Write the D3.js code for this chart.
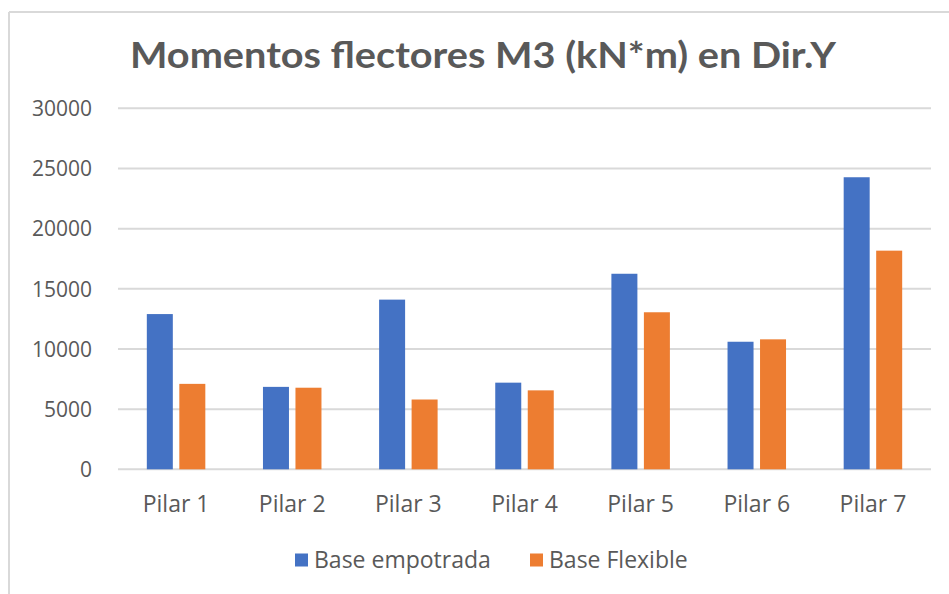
<!DOCTYPE html>
<html>
<head>
<meta charset="utf-8">
<script src="https://cdn.jsdelivr.net/npm/d3@7"></script>
<style>
  html, body { margin: 0; padding: 0; background: #ffffff; }
  svg { display: block; }
</style>
</head>
<body>
<svg id="chart" width="949" height="594"></svg>
<script>
// Bending moments M3 (kN*m), direction Y, per column
const categories = ["Pilar 1", "Pilar 2", "Pilar 3", "Pilar 4", "Pilar 5", "Pilar 6", "Pilar 7"];
const seriesNames = ["Base empotrada", "Base Flexible"];
const baseEmpotrada = [12900, 6850, 14100, 7200, 16250, 10600, 24270];
const baseFlexible = [7100, 6780, 5800, 6560, 13050, 10800, 18170];
const yTicks = [0, 5000, 10000, 15000, 20000, 25000, 30000];
const colors = ["#4472C4", "#ED7D31"];

const svg = d3.select("#chart");
const W = 949, H = 594;
const plot = { left: 118, right: 931, top: 108.3, bottom: 469.3 };

// Chart frame (top and left edges)
svg.append("line").attr("x1", 9).attr("x2", W).attr("y1", 12).attr("y2", 12)
  .attr("stroke", "#d9d9d9").attr("stroke-width", 2);
svg.append("line").attr("x1", 9).attr("x2", 9).attr("y1", 12).attr("y2", H)
  .attr("stroke", "#d9d9d9").attr("stroke-width", 2);

// Title
svg.append("text")
  .attr("x", 483).attr("y", 68)
  .attr("text-anchor", "middle")
  .attr("font-family", "Lato, 'Open Sans', sans-serif")
  .attr("font-weight", "bold")
  .attr("font-size", 37)
  .attr("fill", "#595959")
  .attr("textLength", 706)
  .attr("lengthAdjust", "spacingAndGlyphs")
  .text("Momentos flectores M3 (kN*m) en Dir.Y");

const x0 = d3.scaleBand().domain(categories).range([plot.left, plot.right]).paddingInner(0).paddingOuter(0);
const y = d3.scaleLinear().domain([0, 30000]).range([plot.bottom, plot.top]);

// Horizontal gridlines
svg.append("g").selectAll("line").data(yTicks).join("line")
  .attr("x1", plot.left).attr("x2", plot.right)
  .attr("y1", d => y(d)).attr("y2", d => y(d))
  .attr("stroke", "#d9d9d9").attr("stroke-width", 2);

// Y axis labels
const yAxis = d3.axisLeft(y).tickValues(yTicks).tickSize(0).tickPadding(0).tickFormat(d3.format("d"));
const gy = svg.append("g").attr("transform", `translate(92,0)`).call(yAxis);
gy.select(".domain").remove();
gy.selectAll("text")
  .attr("font-family", "'Open Sans', sans-serif")
  .attr("font-size", 21)
  .attr("fill", "#595959")
  .attr("dy", "0.35em");

// X axis labels
const xAxis = d3.axisBottom(x0).tickSize(0).tickPadding(0);
const gx = svg.append("g").attr("transform", `translate(0,${plot.bottom})`).call(xAxis);
gx.select(".domain").remove();
gx.selectAll("text")
  .attr("font-family", "'Open Sans', sans-serif")
  .attr("font-size", 23)
  .attr("fill", "#595959")
  .attr("y", 0).attr("dy", 43);

// Bars: two series per column group
const barW = 26, gap = 6.5;
const groupW = barW * 2 + gap;
const x1 = d3.scaleBand().domain(seriesNames).range([0, groupW]).paddingInner(gap / (barW + gap)).paddingOuter(0);

const rows = categories.map((c, i) => ({ cat: c, vals: [baseEmpotrada[i], baseFlexible[i]] }));
const groups = svg.append("g").selectAll("g").data(rows).join("g")
  .attr("transform", d => `translate(${x0(d.cat) + (x0.bandwidth() - groupW) / 2},0)`);
groups.selectAll("rect").data(d => d.vals.map((v, j) => ({ name: seriesNames[j], v, j }))).join("rect")
  .attr("x", d => x1(d.name))
  .attr("width", x1.bandwidth())
  .attr("y", d => y(d.v))
  .attr("height", d => y(0) - y(d.v))
  .attr("fill", d => colors[d.j]);

// Legend
const legend = svg.append("g").attr("transform", "translate(0,560)");
const legendItems = [{ name: seriesNames[0], x: 295, c: colors[0] }, { name: seriesNames[1], x: 530, c: colors[1] }];
const li = legend.selectAll("g").data(legendItems).join("g").attr("transform", d => `translate(${d.x},0)`);
li.append("rect").attr("x", 0).attr("y", -6.5).attr("width", 13).attr("height", 13).attr("fill", d => d.c);
li.append("text").attr("x", 19).attr("y", 0).attr("dy", "0.35em")
  .attr("font-family", "'Open Sans', sans-serif")
  .attr("font-size", 23)
  .attr("fill", "#595959")
  .text(d => d.name);
</script>
</body>
</html>
